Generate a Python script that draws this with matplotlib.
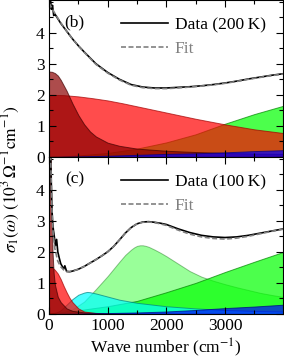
import matplotlib
matplotlib.use("Agg")
import matplotlib.pyplot as plt
from matplotlib.ticker import MultipleLocator

plt.rcParams['font.family'] = ['Liberation Serif', 'DejaVu Serif']
plt.rcParams['mathtext.fontset'] = 'stix'
plt.rcParams['font.size'] = 12.5

# ---- panel (b), 200 K ----
wb_data = [20, 40, 60, 80, 100, 150, 200, 300, 400, 500, 600, 800, 1000, 1200, 1400, 1600,
           1800, 2000, 2200, 2400, 2600, 2800, 3000, 3200, 3400, 3600, 3800, 4000]
sb_data = [5.2, 4.75, 4.88, 4.55, 4.6, 4.45, 4.3, 4.05, 3.8, 3.58, 3.38, 3.0, 2.72, 2.5, 2.33, 2.25,
           2.22, 2.22, 2.24, 2.26, 2.29, 2.33, 2.38, 2.44, 2.51, 2.57, 2.63, 2.68]
wb_fit = [0, 100, 200, 300, 400, 500, 600, 800, 1000, 1200, 1400, 1600, 1800, 2000, 2200, 2400,
          2600, 2800, 3000, 3200, 3400, 3600, 3800, 4000]
sb_fit = [4.95, 4.62, 4.32, 4.05, 3.8, 3.58, 3.37, 2.98, 2.7, 2.48, 2.31, 2.23, 2.2, 2.2, 2.22, 2.25,
          2.28, 2.32, 2.37, 2.43, 2.5, 2.56, 2.62, 2.67]

wb_drude1 = [0, 50, 100, 150, 200, 300, 400, 500, 600, 700, 800, 1000, 1200, 1500, 2000, 2500, 3000, 3500, 4000]
sb_drude1 = [2.75, 2.74, 2.7, 2.62, 2.48, 2.13, 1.72, 1.35, 1.05, 0.82, 0.66, 0.46, 0.36, 0.27, 0.2, 0.16, 0.13, 0.11, 0.1]
wb_drude2 = [0, 250, 500, 750, 1000, 1250, 1500, 1750, 2000, 2250, 2500, 2750, 3000, 3250, 3500, 3750, 4000]
sb_drude2 = [2.0, 1.99, 1.95, 1.89, 1.82, 1.73, 1.63, 1.53, 1.43, 1.33, 1.23, 1.14, 1.05, 0.97, 0.89, 0.83, 0.77]
wb_green = [0, 500, 1000, 1500, 2000, 2500, 3000, 3500, 4000]
sb_green = [0.0, 0.05, 0.13, 0.27, 0.47, 0.73, 1.07, 1.38, 1.65]
wb_blue = [0, 500, 1000, 1500, 2000, 2500, 3000, 3500, 4000]
sb_blue = [0.0, 0.02, 0.04, 0.07, 0.1, 0.12, 0.15, 0.19, 0.22]

# ---- panel (c), 100 K ----
wc_data = [15, 30, 45, 60, 75, 90, 110, 130, 150, 175, 200, 250, 270, 300, 350, 400, 500, 600, 700,
           800, 900, 1000, 1100, 1200, 1300, 1400, 1500, 1600, 1700, 1800, 1900, 2000, 2200, 2400,
           2600, 2800, 3000, 3200, 3400, 3600, 3800, 4000]
sc_data = [6.0, 4.8, 3.6, 3.0, 2.7, 2.5, 2.2, 2.4, 2.0, 1.8, 1.62, 1.45, 1.55, 1.37, 1.36, 1.38, 1.44,
           1.53, 1.64, 1.75, 1.87, 2.0, 2.17, 2.38, 2.6, 2.78, 2.9, 2.96, 2.97, 2.95, 2.92, 2.88, 2.74,
           2.62, 2.53, 2.48, 2.46, 2.48, 2.53, 2.6, 2.67, 2.74]
wc_fit = [10, 30, 50, 70, 100, 150, 200, 250, 300, 350, 400, 500, 600, 700, 800, 900, 1000, 1100,
          1200, 1300, 1400, 1500, 1600, 1700, 1800, 1900, 2000, 2200, 2400, 2600, 2800, 3000, 3200,
          3400, 3600, 3800, 4000]
sc_fit = [8.0, 4.9, 3.4, 2.6, 2.1, 1.7, 1.52, 1.42, 1.37, 1.36, 1.38, 1.44, 1.53, 1.64, 1.75, 1.87,
          2.0, 2.17, 2.38, 2.6, 2.78, 2.9, 2.95, 2.96, 2.94, 2.9, 2.85, 2.7, 2.57, 2.48, 2.43, 2.41,
          2.44, 2.5, 2.58, 2.66, 2.73]

wc_drude1 = [0, 20, 40, 60, 80, 100, 150, 200, 300, 400, 600, 1000, 2000, 4000]
sc_drude1 = [8.0, 6.5, 3.8, 2.0, 1.3, 0.95, 0.55, 0.38, 0.18, 0.1, 0.05, 0.02, 0.01, 0.0]
wc_drude2 = [0, 50, 100, 150, 200, 250, 300, 350, 400, 500, 600, 800, 1000, 4000]
sc_drude2 = [1.52, 1.5, 1.42, 1.3, 1.12, 0.9, 0.7, 0.52, 0.38, 0.18, 0.08, 0.03, 0.01, 0.0]
wc_cyan = [0, 100, 200, 300, 400, 500, 600, 650, 700, 800, 1000, 1200, 1500, 2000, 2500, 3000, 3500, 4000]
sc_cyan = [0.0, 0.02, 0.12, 0.3, 0.48, 0.62, 0.69, 0.71, 0.7, 0.66, 0.56, 0.46, 0.36, 0.25, 0.18, 0.13, 0.1, 0.08]
wc_mir = [0, 200, 400, 600, 800, 1000, 1100, 1200, 1300, 1400, 1450, 1500, 1550, 1600, 1650, 1700,
          1800, 1900, 2000, 2200, 2400, 2600, 2800, 3000, 3200, 3400, 3600, 3800, 4000]
sc_mir = [0.0, 0.03, 0.15, 0.4, 0.8, 1.22, 1.45, 1.68, 1.9, 2.07, 2.14, 2.19, 2.21, 2.21, 2.19, 2.16,
          2.07, 1.97, 1.86, 1.62, 1.38, 1.2, 1.07, 0.96, 0.86, 0.77, 0.68, 0.61, 0.55]
wc_green = [0, 500, 1000, 1500, 2000, 2500, 3000, 3500, 4000]
sc_green = [0.02, 0.12, 0.25, 0.42, 0.7, 1.0, 1.35, 1.68, 2.0]
wc_blue = [0, 500, 1000, 1500, 2000, 2500, 3000, 3500, 4000]
sc_blue = [0.0, 0.01, 0.03, 0.05, 0.08, 0.13, 0.19, 0.24, 0.3]

fig = plt.figure(figsize=(2.84, 3.58), dpi=100)
ax_b = fig.add_axes([49/284, 1 - 157/358, 234/284, 157/358])
ax_c = fig.add_axes([49/284, 1 - 314/358, 234/284, 157/358])


def fill(ax, w, s, c, ec, a=0.7):
    ax.fill_between(w, 0, s, facecolor=c, edgecolor=ec, alpha=a, lw=0.7)


fill(ax_b, wb_green, sb_green, '#00ff00', '#008000')
fill(ax_b, wb_drude2, sb_drude2, '#ff0000', '#a00000')
fill(ax_b, wb_drude1, sb_drude1, '#8b0000', '#400000')
fill(ax_b, wb_blue, sb_blue, '#0000ff', '#000080')
ax_b.plot(wb_data, sb_data, color='k', lw=1.2, label='Data (200\u2009K)')
ax_b.plot(wb_fit, sb_fit, color='#808080', lw=1.2, ls=(0, (3, 1.5)), label='Fit')

fill(ax_c, wc_mir, sc_mir, '#00ff00', '#006000', a=0.4)
fill(ax_c, wc_green, sc_green, '#00ff00', '#008000')
fill(ax_c, wc_cyan, sc_cyan, '#00ffff', '#008080')
fill(ax_c, wc_drude2, sc_drude2, '#ff0000', '#a00000')
fill(ax_c, wc_drude1, sc_drude1, '#8b0000', '#400000')
fill(ax_c, wc_blue, sc_blue, '#0000ff', '#000080')
ax_c.plot(wc_data, sc_data, color='k', lw=1.2, label='Data (100\u2009K)')
ax_c.plot(wc_fit, sc_fit, color='#808080', lw=1.2, ls=(0, (3, 1.5)), label='Fit')

for ax, tag in [(ax_b, '(b)'), (ax_c, '(c)')]:
    ax.set_xlim(0, 3990)
    ax.set_ylim(0, 5.05)
    ax.set_yticks([0, 1, 2, 3, 4])
    ax.yaxis.set_minor_locator(MultipleLocator(0.5))
    ax.set_xticks([0, 1000, 2000, 3000])
    ax.set_xticks([500, 1500, 2500, 3500], minor=True)
    ax.tick_params(which='both', direction='in', top=True, right=True, labelsize=12.5, pad=3)
    ax.tick_params(which='major', length=5, width=0.8)
    ax.tick_params(which='minor', length=3, width=0.8)
    ax.text(0.11, 0.86, tag, transform=ax.transAxes, ha='center', va='center')
    leg = ax.legend(loc='upper right', frameon=False, handlelength=2.7, handletextpad=0.4,
                    labelspacing=0.4, borderaxespad=0.6, fontsize=12.5)
    leg.get_texts()[1].set_color('#808080')

ax_b.tick_params(labelbottom=False)
ax_c.set_xlabel('Wave number (cm$^{-1}$)', labelpad=2)
fig.text(0.04, 0.5, r'$\sigma_1(\omega)$ $(10^3\,\Omega^{-1}\mathrm{cm}^{-1})$',
         rotation=90, ha='center', va='center')

fig.savefig('out.png', dpi=100)
